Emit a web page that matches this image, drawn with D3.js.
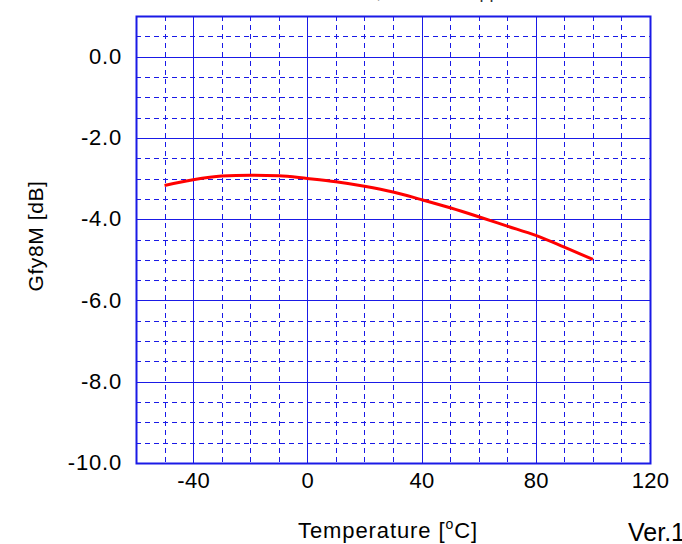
<!DOCTYPE html>
<html>
<head>
<meta charset="utf-8">
<script src="https://cdn.jsdelivr.net/npm/d3@7"></script>
<style>
  html, body { margin: 0; padding: 0; background: #fff; }
  svg { display: block; font-family: "Liberation Sans", Arial, sans-serif; }
</style>
</head>
<body>
<svg id="chart" width="682" height="544"></svg>
<script>
// Gain vs temperature
const temperature = [-50, -40, -30, -20, -10, 0, 10, 20, 30, 40, 50, 60, 70, 80, 90, 100];
const gain = [-3.17, -3.03, -2.94, -2.92, -2.93, -3.00, -3.08, -3.19, -3.33, -3.52, -3.72, -3.94, -4.17, -4.40, -4.69, -4.99];

const xTicks = [-40, 0, 40, 80, 120];
const yTicks = [0, -2, -4, -6, -8, -10];
const xMinor = d3.range(-50, 120, 10);
const yMinor = d3.range(-9.5, 1, 0.5);

const svg = d3.select("#chart");
const plot = { left: 136, right: 650, top: 16, bottom: 463 };

const x = d3.scaleLinear().domain([-60, 120]).range([plot.left, plot.right]);
const y = d3.scaleLinear().domain([-10, 1]).range([plot.bottom, plot.top]);

const gridColor = "#1a1ae6";
const hyphen = s => s.replace("\u2212", "-");

// minor dashed grid
svg.append("g").selectAll("line").data(xMinor.filter(v => v % 40 !== 0)).join("line")
  .attr("x1", d => Math.round(x(d)) + 0.5).attr("x2", d => Math.round(x(d)) + 0.5)
  .attr("y1", plot.top).attr("y2", plot.bottom)
  .attr("stroke", gridColor).attr("stroke-width", 1).attr("stroke-dasharray", "5,4");

svg.append("g").selectAll("line").data(yMinor.filter(v => v % 2 !== 0)).join("line")
  .attr("x1", plot.left).attr("x2", plot.right)
  .attr("y1", d => Math.round(y(d)) + 0.5).attr("y2", d => Math.round(y(d)) + 0.5)
  .attr("stroke", gridColor).attr("stroke-width", 1).attr("stroke-dasharray", "5,4");

// major solid grid
svg.append("g").selectAll("line").data(xTicks).join("line")
  .attr("x1", d => Math.round(x(d)) + 0.5).attr("x2", d => Math.round(x(d)) + 0.5)
  .attr("y1", plot.top).attr("y2", plot.bottom)
  .attr("stroke", gridColor).attr("stroke-width", 1);

svg.append("g").selectAll("line").data(yTicks).join("line")
  .attr("x1", plot.left).attr("x2", plot.right)
  .attr("y1", d => Math.round(y(d)) + 0.5).attr("y2", d => Math.round(y(d)) + 0.5)
  .attr("stroke", gridColor).attr("stroke-width", 1);

// frame
svg.append("rect")
  .attr("x", plot.left + 0.5).attr("y", plot.top + 0.5)
  .attr("width", plot.right - plot.left).attr("height", plot.bottom - plot.top)
  .attr("fill", "none").attr("stroke", gridColor).attr("stroke-width", 2);

// tick labels
const xAxis = svg.append("g")
  .attr("transform", `translate(0,${plot.bottom})`)
  .call(d3.axisBottom(x).tickValues(xTicks).tickSize(0).tickPadding(9)
    .tickFormat(d => hyphen(d3.format("d")(d))));
xAxis.select(".domain").remove();
xAxis.selectAll("text").attr("font-size", 22).attr("fill", "#000")
  .attr("letter-spacing", 0.3)
  .attr("font-family", "Liberation Sans, Arial, sans-serif").attr("dy", "0.71em");

const yAxis = svg.append("g")
  .attr("transform", `translate(${plot.left},0)`)
  .call(d3.axisLeft(y).tickValues(yTicks).tickSize(0).tickPadding(14)
    .tickFormat(d => hyphen(d3.format(".1f")(d))));
yAxis.select(".domain").remove();
yAxis.selectAll("text").attr("font-size", 22).attr("fill", "#000")
  .attr("letter-spacing", 0.8).attr("dy", "0.3em")
  .attr("font-family", "Liberation Sans, Arial, sans-serif");

// data curve
const line = d3.line().x((d, i) => x(temperature[i])).y(d => y(d)).curve(d3.curveMonotoneX);
svg.append("path").datum(gain)
  .attr("d", line)
  .attr("fill", "none").attr("stroke", "#ff0000").attr("stroke-width", 3)
  .attr("stroke-linejoin", "round");

// titles
svg.append("text")
  .attr("transform", "translate(43,236) rotate(-90)")
  .attr("text-anchor", "middle").attr("font-size", 21).attr("letter-spacing", 0.6)
  .text("Gfy8M [dB]");

const xt = svg.append("text")
  .attr("x", 388).attr("y", 538).attr("text-anchor", "middle").attr("font-size", 22)
  .attr("letter-spacing", 0.9);
xt.append("tspan").text("Temperature [");
xt.append("tspan").attr("font-size", 14).attr("dy", -9).text("o");
xt.append("tspan").attr("dy", 9).text("C]");

svg.append("text")
  .attr("x", 628).attr("y", 541).attr("font-size", 25).text("Ver.1");

svg.append("text")
  .attr("x", 400).attr("y", -2).attr("text-anchor", "middle").attr("font-size", 18)
  .attr("fill", "#333").text("Vcc=5.0V, Vin=100mVpp");
</script>
</body>
</html>
